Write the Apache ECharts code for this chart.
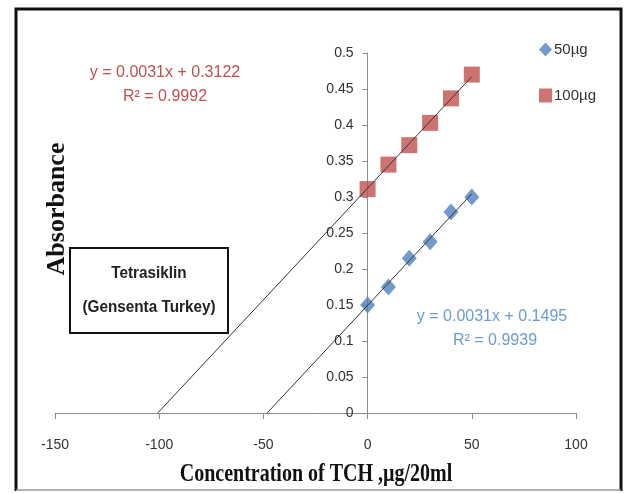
<!DOCTYPE html>
<html>
<head>
<meta charset="utf-8">
<script src="https://cdn.jsdelivr.net/npm/echarts@6/dist/echarts.min.js"></script>
<style>
  html, body { margin: 0; padding: 0; background: #fff; }
  #chart { width: 627px; height: 493px; }
</style>
</head>
<body>
<div id="chart"></div>
<script>
// Concentration of TCH (µg/20ml) for each standard
const concentrations = [0, 10, 20, 30, 40, 50];
// Absorbance readings
const absorbance50 = [0.150, 0.175, 0.215, 0.238, 0.279, 0.300];
const absorbance100 = [0.311, 0.345, 0.372, 0.403, 0.437, 0.470];
// Linear fits as printed next to each series
const fit50 = { slope: 0.0031, intercept: 0.1495, r2: '0.9939' };
const fit100 = { slope: 0.0031, intercept: 0.3122, r2: '0.9992' };
const seriesNames = ['50µg', '100µg'];
const xTicks = { min: -150, max: 100, interval: 50 };
const yTicks = { min: 0, max: 0.5, interval: 0.05 };

const sans = '"Liberation Sans", Arial, sans-serif';
const serif = '"Liberation Serif", "DejaVu Serif", serif';
const blue = '#4F81BD';
const red = '#C0504D';
const axisGray = '#8c8c8c';

const W = 627, H = 493;
const grid = { left: 55, right: 51, top: 53, bottom: 80 };
// the vertical axis sits at x = 0 of the horizontal axis
const plotWidth = W - grid.left - grid.right;
const yAxisOffset = -plotWidth * (0 - xTicks.min) / (xTicks.max - xTicks.min);

// trendline runs from its x-intercept to the last standard
function fitLine(fit) {
  const x0 = -fit.intercept / fit.slope;
  const x1 = concentrations[concentrations.length - 1];
  return [[x0, 0], [x1, fit.slope * x1 + fit.intercept]];
}
function eqText(fit) {
  return 'y = ' + fit.slope + 'x + ' + fit.intercept;
}

const chart = echarts.init(document.getElementById('chart'));
chart.setOption({
  animation: false,
  backgroundColor: '#fff',
  grid: grid,
  legend: {
    orient: 'vertical',
    left: 539,
    top: 42,
    itemGap: 31,
    itemWidth: 13,
    itemHeight: 14,
    padding: 0,
    data: [
      { name: seriesNames[0], icon: 'diamond', itemStyle: { color: blue } },
      { name: seriesNames[1], icon: 'rect', itemStyle: { color: red } }
    ],
    textStyle: { fontFamily: sans, fontSize: 15, color: '#333', padding: [0, 0, 0, -3] }
  },
  xAxis: {
    type: 'value',
    min: xTicks.min, max: xTicks.max, interval: xTicks.interval,
    splitLine: { show: false },
    axisLine: { onZero: true, lineStyle: { color: axisGray, width: 1 } },
    axisTick: { show: true, length: 6, lineStyle: { color: axisGray } },
    axisLabel: { margin: 25, fontFamily: sans, fontSize: 14, color: '#333' }
  },
  yAxis: {
    type: 'value',
    position: 'left',
    offset: yAxisOffset,
    min: yTicks.min, max: yTicks.max, interval: yTicks.interval,
    splitLine: { show: false },
    axisLine: { onZero: false, lineStyle: { color: axisGray, width: 1 } },
    axisTick: { show: true, length: 5, lineStyle: { color: axisGray } },
    axisLabel: { margin: 14, fontFamily: sans, fontSize: 14, color: '#333' }
  },
  series: [
    {
      name: seriesNames[0],
      type: 'scatter',
      symbol: 'diamond',
      symbolSize: [15, 17],
      itemStyle: { color: blue },
      data: concentrations.map((c, i) => [c, absorbance50[i]]),
      z: 2
    },
    {
      name: seriesNames[1],
      type: 'scatter',
      symbol: 'rect',
      symbolSize: 16,
      itemStyle: { color: red },
      data: concentrations.map((c, i) => [c, absorbance100[i]]),
      z: 2
    },
    {
      name: 'fit50',
      type: 'line',
      showSymbol: false,
      silent: true,
      lineStyle: { color: '#333', width: 1 },
      data: fitLine(fit50),
      z: 3
    },
    {
      name: 'fit100',
      type: 'line',
      showSymbol: false,
      silent: true,
      lineStyle: { color: '#333', width: 1 },
      data: fitLine(fit100),
      z: 3
    }
  ],
  graphic: [
    // outer frame: heavy on three sides, light along the bottom
    {
      type: 'polyline', z: 0,
      shape: { points: [[16, 491], [16, 9], [621, 9], [621, 491]] },
      style: { fill: 'none', stroke: '#111', lineWidth: 3 }
    },
    {
      type: 'line', z: 0,
      shape: { x1: 16, y1: 490, x2: 621, y2: 490 },
      style: { stroke: '#9a9a9a', lineWidth: 1.5 }
    },
    // sample label box
    {
      type: 'group', x: 70, y: 248, z: 10,
      children: [
        { type: 'rect', shape: { x: 0, y: 0, width: 158, height: 85 },
          style: { fill: '#fff', stroke: '#111', lineWidth: 2 } },
        { type: 'text', x: 79, y: 25, scaleX: 0.9,
          style: { text: 'Tetrasiklin', font: 'bold 17px ' + sans, fill: '#222',
                   textAlign: 'center', textVerticalAlign: 'middle' } },
        { type: 'text', x: 79, y: 59, scaleX: 0.9,
          style: { text: '(Gensenta Turkey)', font: 'bold 17px ' + sans, fill: '#222',
                   textAlign: 'center', textVerticalAlign: 'middle' } }
      ]
    },
    // regression equations
    { type: 'text', x: 165, y: 73, z: 10,
      style: { text: eqText(fit100), font: '16px ' + sans, fill: red,
               textAlign: 'center', textVerticalAlign: 'middle' } },
    { type: 'text', x: 165, y: 97, z: 10,
      style: { text: 'R² = ' + fit100.r2, font: '16px ' + sans, fill: red,
               textAlign: 'center', textVerticalAlign: 'middle' } },
    { type: 'text', x: 492, y: 317, z: 10,
      style: { text: eqText(fit50), font: '16px ' + sans, fill: '#6a9bd2',
               textAlign: 'center', textVerticalAlign: 'middle' } },
    { type: 'text', x: 495, y: 341, z: 10,
      style: { text: 'R² = ' + fit50.r2, font: '16px ' + sans, fill: '#6a9bd2',
               textAlign: 'center', textVerticalAlign: 'middle' } },
    // axis titles
    { type: 'text', x: 316, y: 475, z: 10, scaleX: 0.8,
      style: { text: 'Concentration of TCH ,µg/20ml', font: 'bold 25px ' + serif, fill: '#111',
               textAlign: 'center', textVerticalAlign: 'middle' } },
    { type: 'text', x: 57, y: 209, z: 10, rotation: Math.PI / 2,
      style: { text: 'Absorbance', font: 'bold 26px ' + serif, fill: '#111',
               textAlign: 'center', textVerticalAlign: 'middle' } }
  ]
});
</script>
</body>
</html>
